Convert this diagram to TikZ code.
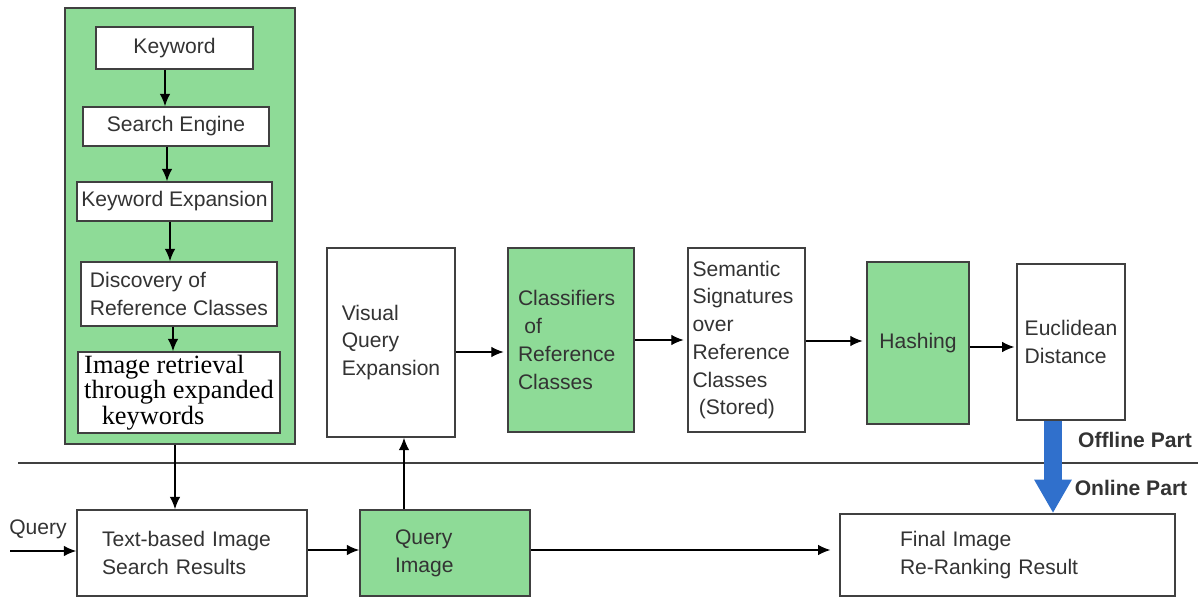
\documentclass[tikz,border=0pt]{standalone}
\usepackage{fontspec}
\setmainfont{Liberation Sans}
\newfontfamily\retrievalfont{Liberation Serif}
\usetikzlibrary{arrows.meta}
\definecolor{boxgreen}{RGB}{142,219,151}
\definecolor{linegray}{RGB}{64,64,64}
\definecolor{txtgray}{RGB}{51,51,51}
\definecolor{arrowblue}{RGB}{48,112,204}

\begin{document}
\begin{tikzpicture}[x=0.02cm,y=-0.02cm,
  box/.style={draw=linegray, line width=1pt, fill=white, text=txtgray, align=left,
    font=\fontsize{12}{15.8}\selectfont, inner sep=0pt},
  gbox/.style={box, fill=boxgreen},
  arr/.style={-{Latex[length=7pt,width=6pt]}, line width=0.7pt, black},
  partlabel/.style={text=txtgray, font=\bfseries\fontsize{12}{14}\selectfont}]
\useasboundingbox (0,0) rectangle (1198,601);
% offline part: keyword side
\node[gbox, minimum width=4.6cm, minimum height=8.72cm] (panel) at (180,226) {};
\node[box, minimum width=3.14cm, minimum height=0.84cm] (kw) at (174.5,48) {Keyword};
\node[box, minimum width=3.72cm, minimum height=0.78cm] (se) at (176,126.5) {Search Engine};
\node[box, minimum width=3.9cm, minimum height=0.78cm] (ke) at (174.5,201.5) {Keyword Expansion};
\node[box, minimum width=3.92cm, minimum height=1.28cm] (disc) at (179,294) {Discovery of\\Reference Classes};
\node[box, font=\retrievalfont\fontsize{15}{11.5}\selectfont, text=black,
  minimum width=4.04cm, minimum height=1.62cm] (ir) at (179,392.5)
  {Image retrieval\\through expanded\\\hspace*{10pt}keywords};
\draw[arr] ([xshift=-0.19cm]kw.south) -- ([xshift=-0.19cm]kw.south |- se.north);
\draw[arr] ([xshift=-0.18cm]se.south) -- ([xshift=-0.18cm]se.south |- ke.north);
\draw[arr] ([xshift=-0.09cm]ke.south) -- ([xshift=-0.09cm]ke.south |- disc.north);
\draw[arr] ([xshift=-0.12cm]disc.south) -- ([xshift=-0.12cm]disc.south |- ir.north);
% offline part: visual side
\node[box, minimum width=2.56cm, minimum height=3.78cm] (vqe) at (391,342.5) {Visual\\Query\\Expansion};
\node[gbox, text width=2.12cm, minimum width=2.52cm, minimum height=3.68cm] (cls) at (571,340)
  {Classifiers\\\hspace*{0.3em}of\\Reference\\Classes};
\node[box, text width=2.16cm, minimum width=2.34cm, minimum height=3.68cm] (sem) at (746.5,340)
  {Semantic\\Signatures\\over\\Reference\\Classes\\\hspace*{0.3em}(Stored)};
\node[gbox, minimum width=2.04cm, minimum height=3.24cm] (hash) at (918,343) {Hashing};
\node[box, minimum width=2.16cm, minimum height=3.12cm] (euc) at (1071,342) {Euclidean\\Distance};
\draw[arr, shorten >=2pt] (vqe.east |- 0,352) -- (cls.west |- 0,352);
\draw[arr, shorten >=2pt] (cls.east |- 0,340) -- (sem.west |- 0,340);
\draw[arr, shorten >=2pt] (sem.east |- 0,341) -- (hash.west |- 0,341);
\draw[arr, shorten >=1pt] (hash.east |- 0,347) -- (euc.west |- 0,347);
% split line
\coordinate (splitL) at (18,463);
\coordinate (splitR) at (1198,463);
\draw[linegray, line width=0.9pt] (splitL) -- (splitR);
\node[partlabel] (offline) at (1135,440) {Offline Part};
\node[partlabel] (online) at (1131,488) {Online Part};
% online part
\node[box, text width=3.6cm, minimum width=4.6cm, minimum height=1.72cm] (tbr) at (192,553)
  {Text-based Image\\Search Results};
\node[gbox, text width=2cm, minimum width=3.4cm, minimum height=1.72cm] (qi) at (445,553)
  {Query\\Image};
\node[box, text width=4.3cm, minimum width=6.7cm, minimum height=1.64cm] (fin) at (1007.5,555)
  {Final Image\\Re-Ranking Result};
\node[text=txtgray, font=\fontsize{12}{14}\selectfont] (query) at (38,529) {Query};
\coordinate (qin) at (10,551);
\draw[arr] (qin) -- (tbr.west |- qin);
\draw[arr] ([xshift=-0.1cm]panel.south) -- ([xshift=-0.1cm]panel.south |- tbr.north);
\draw[arr] (tbr.east |- 0,550) -- (qi.west |- 0,550);
\draw[arr, shorten >=5pt] (qi.east |- 0,550) -- (fin.west |- 0,550);
\draw[arr] ([xshift=-0.82cm]qi.north) -- ([xshift=-0.82cm]qi.north |- vqe.south);
\draw[arrowblue, line width=10pt, -{Triangle[width=20pt,length=19pt]}]
  ([xshift=-0.36cm]euc.south) -- ([xshift=-0.36cm]euc.south |- fin.north);
\end{tikzpicture}
\end{document}
